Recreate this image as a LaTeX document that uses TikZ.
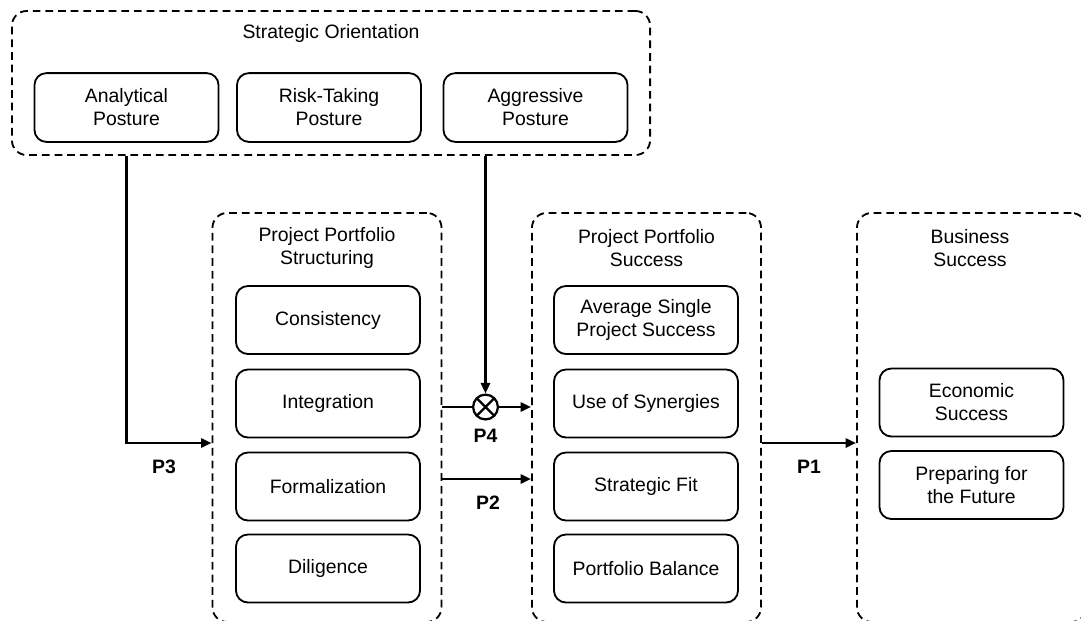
\documentclass[tikz,border=0pt]{standalone}
\usepackage{fontspec}
\setmainfont{Liberation Sans}
\usetikzlibrary{positioning}
\usetikzlibrary{arrows.meta}
\tikzset{
    group/.style = {rectangle, rounded corners=10.5pt, draw=black, line width=1.3pt, dash pattern=on 5.5pt off 3.5pt, minimum width=5.725cm, minimum height=10.225cm, inner sep=0pt},
    item/.style = {rectangle, rounded corners=8.5pt, draw=black, line width=1.3pt, align=center, minimum width=4.6cm, minimum height=1.7cm, inner sep=2pt},
    grouptitle/.style = {align=center},
    plabel/.style = {font=\bfseries},
    link/.style = {-{Triangle[length=7.5pt,width=6.5pt]}, line width=1.8pt},
    plainlink/.style = {line width=1.8pt},
    multnode/.style = {circle, draw=black, line width=1.6pt, minimum size=0.62cm, inner sep=0pt,
        path picture={\draw[line width=1.6pt] (path picture bounding box.north west) -- (path picture bounding box.south east)
            (path picture bounding box.south west) -- (path picture bounding box.north east);}},
    every picture/.style={font issue=\fontsize{13.8}{16.3}},
    font issue/.style={execute at begin picture={#1\selectfont}
  }
}

\begin{document}
\begin{tikzpicture}[x=0.025cm, y=-0.025cm]
\clip (0,0) rectangle (1081,620);
%
% strategic orientation
\node[group, minimum width=15.95cm, minimum height=3.6cm] at (331, 83) (so) {};
\node[grouptitle] at (331, 33) (sotitle) {Strategic Orientation};
\node[item, minimum height=1.72cm] at (126.5, 107.5) (ana) {Analytical\\Posture};
\node[item, minimum height=1.72cm] at (329, 107.5) (risk) {Risk-Taking\\Posture};
\node[item, minimum height=1.72cm] at (535.5, 107.5) (aggr) {Aggressive\\Posture};
%
% project portfolio structuring
\node[group] at (327, 417.5) (pps) {};
\node[grouptitle] at (327, 248) (ppstitle) {Project Portfolio\\Structuring};
\node[item] at (328, 320) (cons) {Consistency};
\node[item] at (328, 403.5) (integ) {Integration};
\node[item] at (328, 486.5) (formal) {Formalization};
\node[item] at (328, 568.5) (dilig) {Diligence};
%
% project portfolio success
\node[group] at (646.5, 417.5) (ppsucc) {};
\node[grouptitle] at (646.5, 248) (ppsucctitle) {Project Portfolio\\Success};
\node[item] at (646, 320) (avg) {Average Single\\Project Success};
\node[item] at (646, 403.5) (syn) {Use of Synergies};
\node[item] at (646, 486.5) (fit) {Strategic Fit};
\node[item] at (646, 568.5) (bal) {Portfolio Balance};
%
% business success
\node[group] at (971.5, 417.5) (bs) {};
\node[grouptitle] at (970, 248) (bstitle) {Business\\Success};
\node[item] at (971.5, 402.5) (econ) {Economic\\Success};
\node[item] at (971.5, 485) (future) {Preparing for\\the Future};
%
% propositions
\coordinate (rowa) at (0, 443);
\coordinate (rowb) at (0, 479);
\node[multnode] at (485.5, 407) (mult) {};
\node[plabel] at (164, 467) (pthree) {P3};
\node[plabel] at (485.5, 436) (pfour) {P4};
\node[plabel] at (488, 503) (ptwo) {P2};
\node[plabel] at (809, 467) (pone) {P1};
%
\draw[link] (ana |- so.south) |- (pps.west |- rowa);
\draw[link] (mult |- so.south) -- (mult.north);
\draw[plainlink] (pps.east |- mult) -- (mult.west);
\draw[link] (mult.east) -- (ppsucc.west |- mult);
\draw[link] (pps.east |- rowb) -- (ppsucc.west |- rowb);
\draw[link] (ppsucc.east |- rowa) -- (bs.west |- rowa);

\end{tikzpicture}
\end{document}
